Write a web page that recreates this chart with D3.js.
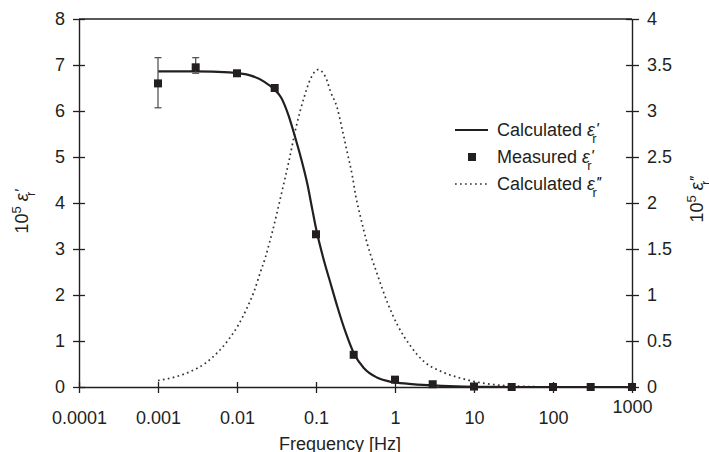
<!DOCTYPE html>
<html>
<head>
<meta charset="utf-8">
<script src="https://cdn.jsdelivr.net/npm/d3@7"></script>
<style>
  html, body { margin: 0; padding: 0; background: #fff; }
  svg text { font-family: "Liberation Sans", Arial, Helvetica, sans-serif; fill: #231f20; }
</style>
</head>
<body>
<div id="graph-container"></div>
<script>
const measFreq = [0.001, 0.003, 0.01, 0.03, 0.1, 0.3, 1, 3, 10, 30, 100, 300, 1000];
const measVal = [6.6, 6.95, 6.82, 6.5, 3.32, 0.7, 0.16, 0.06, 0.01, 0, 0, 0, 0];

// Error bars on the first two measurements
const errFreq = [0.001, 0.003];
const errLow = [6.07, 6.82];
const errHigh = [7.16, 7.16];

// Calculated real part (left axis)
const calcFreq = [0.001, 0.003, 0.008, 0.015, 0.022, 0.03, 0.036, 0.045, 0.054, 0.064,
  0.078, 0.09, 0.1, 0.126, 0.153, 0.186, 0.238, 0.3, 0.4, 0.6, 0.9, 1.5, 2.6, 6, 12, 30, 100, 1000];
const calcReal = [6.86, 6.86, 6.84, 6.77, 6.64, 6.46, 6.3, 5.9, 5.45, 5.0,
  4.4, 3.85, 3.45, 2.75, 2.25, 1.75, 1.18, 0.74, 0.42, 0.2, 0.11, 0.07, 0.04, 0.012, 0.004, 0, 0, 0];

// Calculated imaginary part (right axis)
const lossFreq = [0.001, 0.00165, 0.0026, 0.004, 0.0056, 0.0079, 0.0105, 0.0134, 0.0163, 0.0198,
  0.0229, 0.0258, 0.0279, 0.0356, 0.0453, 0.0562, 0.0702, 0.0853, 0.106, 0.132, 0.153, 0.186,
  0.216, 0.25, 0.289, 0.318, 0.368, 0.448, 0.6, 0.8, 1.08, 1.59, 2.34, 3.81, 6.84, 13.5, 26.8, 100];
const lossVal = [0.07, 0.11, 0.17, 0.26, 0.37, 0.52, 0.68, 0.86, 1.03, 1.25,
  1.41, 1.57, 1.68, 2.06, 2.45, 2.83, 3.14, 3.35, 3.45, 3.37, 3.21, 3.03,
  2.79, 2.54, 2.29, 2.08, 1.84, 1.55, 1.22, 0.92, 0.67, 0.44, 0.275, 0.17, 0.095, 0.04, 0.014, 0];

// Tick values and labels
const xTicks = [0.0001, 0.001, 0.01, 0.1, 1, 10, 100, 1000];
const xTickLabels = ['0.0001', '0.001', '0.01', '0.1', '1', '10', '100', '1000'];
const yLeftTicks = [0, 1, 2, 3, 4, 5, 6, 7, 8];
const yRightTicks = [0, 0.5, 1, 1.5, 2, 2.5, 3, 3.5, 4];
const legendLabels = ['Calculated', 'Measured', 'Calculated'];
const legendPrimes = ["'", "'", "''"];

const w = 709;
const h = 452;
const plot = { left: 79, right: 632, top: 19, bottom: 387 };
const ink = '#231f20';

const svg = d3.select('#graph-container')
  .append('svg')
  .attr('width', w)
  .attr('height', h);

const x = d3.scaleLog().domain([0.0001, 1000]).range([plot.left, plot.right]);
const yL = d3.scaleLinear().domain([0, 8]).range([plot.bottom, plot.top]);
const yR = d3.scaleLinear().domain([0, 4]).range([plot.bottom, plot.top]);

// Writes "ε" with a prime above and an "r" below, as in the original
function epsilon(textSel, prime, size) {
  textSel.append('tspan').attr('font-style', 'italic').text('\u03b5');
  textSel.append('tspan')
    .attr('font-style', 'italic')
    .attr('font-size', size * 0.95)
    .attr('dx', 0.5)
    .attr('dy', -size * 0.05)
    .attr('letter-spacing', -1)
    .text(prime);
  textSel.append('tspan')
    .attr('font-size', size * 0.72)
    .attr('dx', -size * (prime.length === 1 ? 0.3 : 0.42))
    .attr('dy', size * 0.42)
    .text('r');
}

// Axes
const xAxis = d3.axisBottom(x)
  .tickValues(xTicks)
  .tickFormat((d, i) => xTickLabels[i])
  .tickSizeInner(6)
  .tickSizeOuter(0)
  .tickPadding(18);
const gx = svg.append('g').attr('transform', `translate(0,${plot.bottom})`).call(xAxis);

const gyl = svg.append('g').attr('transform', `translate(${plot.left},0)`)
  .call(d3.axisLeft(yL).tickValues(yLeftTicks).tickFormat(d3.format('~g'))
    .tickSizeInner(6).tickSizeOuter(0).tickPadding(8));

const gyr = svg.append('g').attr('transform', `translate(${plot.right},0)`)
  .call(d3.axisRight(yR).tickValues(yRightTicks).tickFormat(d3.format('~g'))
    .tickSizeInner(6).tickSizeOuter(0).tickPadding(9));

[gx, gyl, gyr].forEach((g) => {
  g.select('.domain').attr('stroke', ink).attr('stroke-width', 1.4);
  g.selectAll('.tick line').attr('stroke', ink).attr('stroke-width', 1.3);
  g.selectAll('.tick text').attr('font-size', 18).attr('fill', ink)
    .attr('font-family', '"Liberation Sans", Arial, sans-serif');
});
// ticks cross the axis lines
gx.selectAll('.tick line').attr('y1', -5).attr('y2', 6);
gyl.selectAll('.tick line').attr('x1', -6).attr('x2', 6);
gyr.selectAll('.tick line').attr('x1', -6).attr('x2', 7);
// last x label sits a bit higher
gx.selectAll('.tick text').filter((d) => d === 1000).attr('y', 13);

// top frame line
svg.append('line')
  .attr('x1', plot.left).attr('x2', plot.right)
  .attr('y1', plot.top).attr('y2', plot.top)
  .attr('stroke', ink).attr('stroke-width', 1.4);

// Calculated loss (dotted, right axis)
const lossLine = d3.line()
  .x((d, i) => x(lossFreq[i]))
  .y((d) => yR(d))
  .curve(d3.curveMonotoneX);
svg.append('path')
  .attr('d', lossLine(lossVal))
  .attr('fill', 'none')
  .attr('stroke', '#333')
  .attr('stroke-width', 1.7)
  .attr('stroke-dasharray', '1.7 3.3');

// Calculated real part (solid, left axis)
const realLine = d3.line()
  .x((d, i) => x(calcFreq[i]))
  .y((d) => yL(d))
  .curve(d3.curveMonotoneX);
svg.append('path')
  .attr('d', realLine(calcReal))
  .attr('fill', 'none')
  .attr('stroke', ink)
  .attr('stroke-width', 2.2);

// Error bars
const eb = svg.selectAll('g.err')
  .data(errFreq)
  .enter()
  .append('g')
  .attr('class', 'err')
  .attr('stroke', '#555')
  .attr('stroke-width', 1.3);
eb.append('line')
  .attr('x1', (d) => x(d)).attr('x2', (d) => x(d))
  .attr('y1', (d, i) => yL(errLow[i])).attr('y2', (d, i) => yL(errHigh[i]));
eb.append('line')
  .attr('x1', (d) => x(d) - 3.5).attr('x2', (d) => x(d) + 3.5)
  .attr('y1', (d, i) => yL(errLow[i])).attr('y2', (d, i) => yL(errLow[i]));
eb.append('line')
  .attr('x1', (d) => x(d) - 3.5).attr('x2', (d) => x(d) + 3.5)
  .attr('y1', (d, i) => yL(errHigh[i])).attr('y2', (d, i) => yL(errHigh[i]));

// Measured squares
svg.selectAll('rect.meas')
  .data(measVal)
  .enter()
  .append('rect')
  .attr('class', 'meas')
  .attr('x', (d, i) => x(measFreq[i]) - 4)
  .attr('y', (d) => yL(d) - 4)
  .attr('width', 8)
  .attr('height', 8)
  .attr('fill', ink);

// Legend
const legend = svg.append('g');
const rowY = (i) => 130 + i * 27;
legend.append('line')
  .attr('x1', 455).attr('x2', 488).attr('y1', rowY(0)).attr('y2', rowY(0))
  .attr('stroke', ink).attr('stroke-width', 2.2);
legend.append('rect')
  .attr('x', 468).attr('y', rowY(1) - 4).attr('width', 8).attr('height', 8)
  .attr('fill', ink);
legend.append('line')
  .attr('x1', 455).attr('x2', 488).attr('y1', rowY(2)).attr('y2', rowY(2))
  .attr('stroke', '#333').attr('stroke-width', 1.7).attr('stroke-dasharray', '1.7 3.3');
legendLabels.forEach((label, i) => {
  const t = legend.append('text')
    .attr('x', 497)
    .attr('y', rowY(i) + 6)
    .attr('font-size', 18);
  t.append('tspan').text(label + ' ');
  epsilon(t, legendPrimes[i], 18);
});

// Axis titles
const leftTitle = svg.append('text')
  .attr('transform', 'translate(28,212) rotate(-90)')
  .attr('text-anchor', 'middle')
  .attr('font-size', 18);
leftTitle.append('tspan').text('10');
leftTitle.append('tspan').attr('font-size', 13).attr('dy', -7).text('5');
leftTitle.append('tspan').attr('dy', 7).text(' ');
epsilon(leftTitle, "'", 18);

const rightTitle = svg.append('text')
  .attr('transform', 'translate(703,200) rotate(-90)')
  .attr('text-anchor', 'middle')
  .attr('font-size', 18);
rightTitle.append('tspan').text('10');
rightTitle.append('tspan').attr('font-size', 13).attr('dy', -7).text('5');
rightTitle.append('tspan').attr('dy', 7).text(' ');
epsilon(rightTitle, "''", 18);

svg.append('text')
  .attr('x', 340)
  .attr('y', 450)
  .attr('text-anchor', 'middle')
  .attr('font-size', 18)
  .text('Frequency [Hz]');
</script>
</body>
</html>
